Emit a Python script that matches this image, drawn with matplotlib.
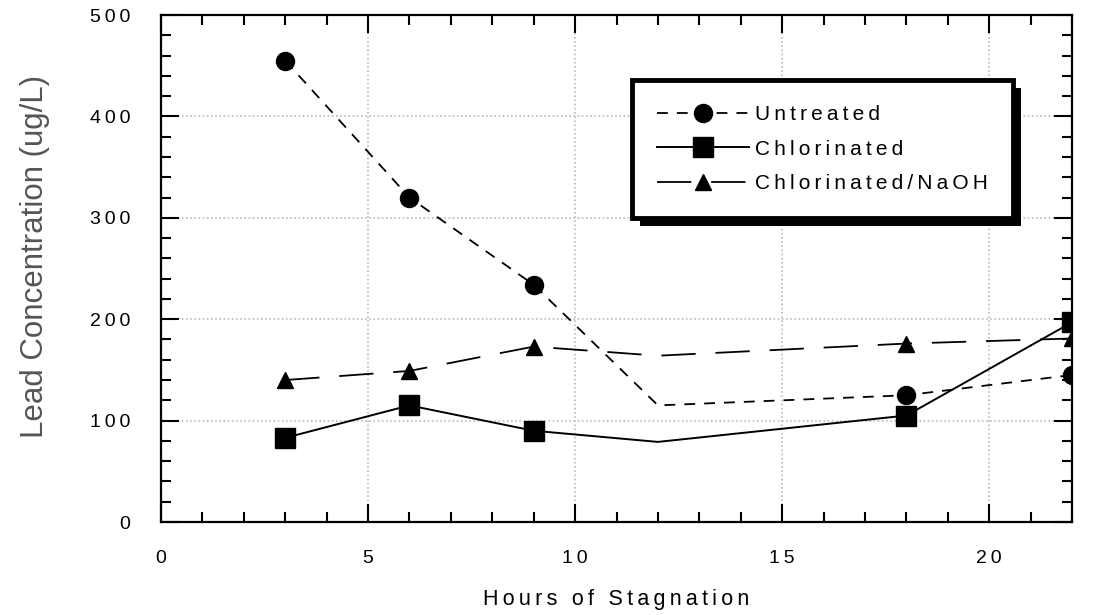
import matplotlib
matplotlib.use('Agg')
import matplotlib.pyplot as plt
from matplotlib.patches import Rectangle
from matplotlib.ticker import MultipleLocator, FuncFormatter
from matplotlib.transforms import IdentityTransform

plt.rcParams['font.family'] = ['Liberation Sans', 'DejaVu Sans']

# lead levels after stagnation, ug/L
hours = [3, 6, 9, 12, 18, 22]
untreated = [455, 320, 234, 115, 125, 145]
chlorinated = [83, 115, 90, 79, 105, 197]
chlor_naoh = [140, 149, 173, 164, 176, 181]
marked = [0, 1, 2, 4, 5]   # no sample marker drawn at 12 h


def spaced(s):
    # loose letter spacing, like the old plotting package
    return '\u2009'.join(s)


fig = plt.figure(figsize=(11.02, 6.15), dpi=100)
ax = fig.add_axes([0.1461, 0.1512, 0.8267, 0.8244])

ax.plot(hours, untreated, color='black', lw=1.3, dashes=(6, 5),
        marker='o', ms=13, markevery=marked, label=spaced('Untreated'), zorder=3)
ax.plot(hours, chlorinated, color='black', lw=1.4, ls='-',
        marker='s', ms=15, markevery=marked, label=spaced('Chlorinated'), zorder=3)
ax.plot(hours, chlor_naoh, color='black', lw=1.3, dashes=(19, 11),
        marker='^', ms=12, markevery=marked, label=spaced('Chlorinated/NaOH'),
        zorder=3)

ax.set_xlim(0, 22)
ax.set_ylim(0, 500)
ax.xaxis.set_major_locator(MultipleLocator(5))
ax.xaxis.set_minor_locator(MultipleLocator(1))
ax.yaxis.set_major_locator(MultipleLocator(100))
ax.yaxis.set_minor_locator(MultipleLocator(20))
fmt = FuncFormatter(lambda v, p: spaced('%d' % v))
ax.xaxis.set_major_formatter(fmt)
ax.yaxis.set_major_formatter(fmt)
ax.grid(True, which='major', color='#bbbbbb', ls=(0, (1, 1.5)), lw=1.2)
ax.set_axisbelow(True)

for sp in ax.spines.values():
    sp.set_linewidth(1.6)
ax.tick_params(which='both', direction='in', top=True, right=True, width=1.5)
ax.tick_params(which='major', length=13)
ax.tick_params(which='minor', length=7.5)
ax.tick_params(axis='x', which='major', pad=20, labelsize=14)
ax.tick_params(axis='y', which='major', pad=22, labelsize=14)

ax.set_xlabel(spaced('Hours of Stagnation'), fontsize=15.5, labelpad=16)
ax.set_ylabel('Lead Concentration (ug/L)', fontsize=22.5, color='#555555')
ax.yaxis.set_label_coords(-0.122, 0.523)

leg = ax.legend(loc='upper left', bbox_to_anchor=(0.517, 0.872),
                borderaxespad=0, fontsize=15, handlelength=4.4,
                handletextpad=0.3, borderpad=1.2, labelspacing=0.75,
                fancybox=False, framealpha=1, edgecolor='black')
leg.get_frame().set_linewidth(3.5)
leg.set_zorder(6)

# drop shadow under the legend box
fig.canvas.draw()
bb = leg.get_frame().get_window_extent()
ax.add_patch(Rectangle((bb.x0 + 8, bb.y0 - 8), bb.width, bb.height,
                       transform=IdentityTransform(), facecolor='black',
                       edgecolor='none', clip_on=False, zorder=5))

fig.savefig('out.png', dpi=100)
